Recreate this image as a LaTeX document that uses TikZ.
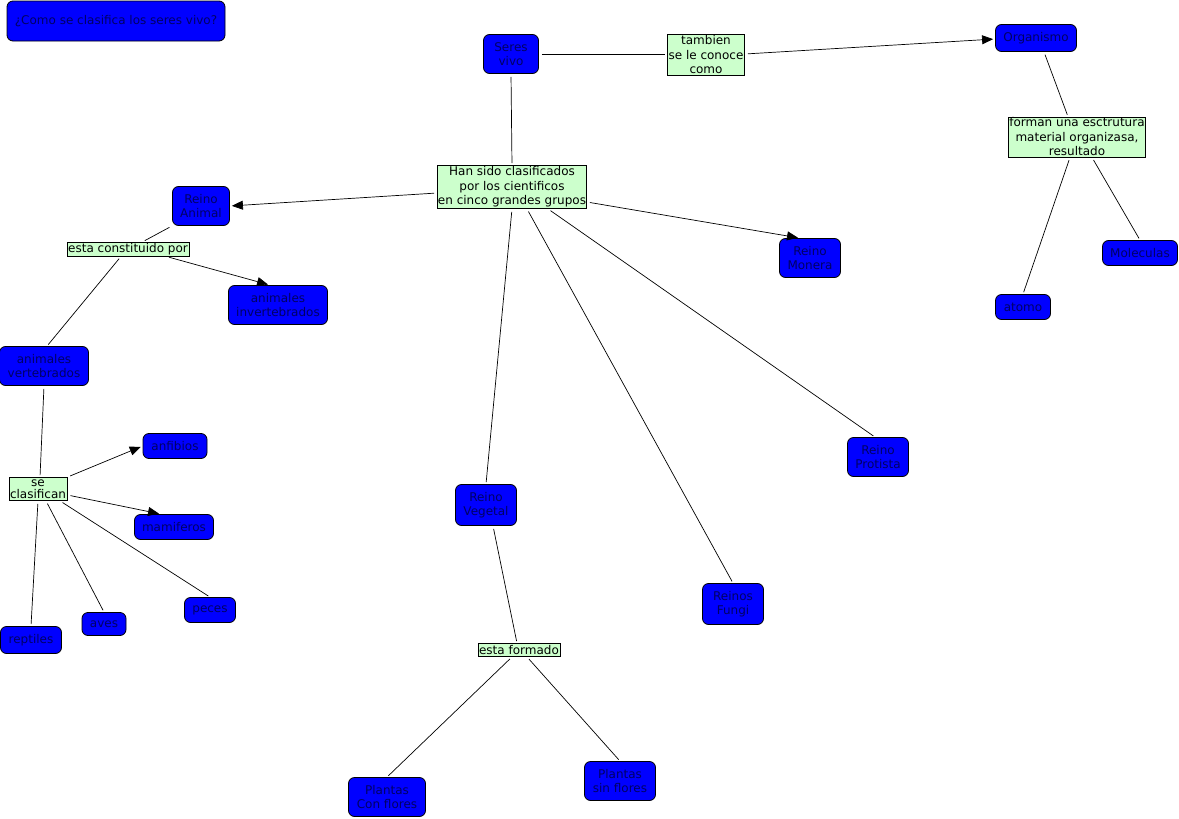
\documentclass[tikz,border=0pt]{standalone}
\usepackage{fontspec}
\setmainfont{DejaVu Sans}
\usetikzlibrary{arrows.meta}
\definecolor{cblue}{RGB}{0,0,255}
\definecolor{ctext}{RGB}{0,0,100}
\definecolor{lgreen}{RGB}{204,255,204}
\tikzset{
  concept/.style={rectangle, rounded corners=6pt, draw=black, line width=0.8pt, fill=cblue, text=ctext, align=center, inner sep=0pt, font=\fontsize{12}{14.5}\selectfont},
  linkbox/.style={rectangle, draw=black, line width=0.8pt, fill=lgreen, text=black, align=center, inner sep=0.5pt, font=\fontsize{12}{14.5}\selectfont},
  conn/.style={draw=black, line width=0.7pt, shorten <=3pt, shorten >=2pt},
  arr/.style={conn, -{Triangle[length=11pt,width=9pt]}},
}
\begin{document}
\begin{tikzpicture}[x=1pt,y=-1pt]
\useasboundingbox (0,0) rectangle (1179,819);
% concepts
\node[concept, minimum width=218pt, minimum height=40pt] (title) at (116,21) {¿Como se clasifica los seres vivo?};
\node[concept, minimum width=55pt, minimum height=39pt] (seres) at (511,54) {Seres\\vivo};
\node[concept, minimum width=81pt, minimum height=27pt] (org) at (1036,38) {Organismo};
\node[concept, minimum width=75pt, minimum height=25pt] (mol) at (1140,253) {Moleculas};
\node[concept, minimum width=55pt, minimum height=25pt] (atomo) at (1023,307) {atomo};
\node[concept, minimum width=57pt, minimum height=39pt] (animal) at (201,206) {Reino\\Animal};
\node[concept, minimum width=99pt, minimum height=39pt] (invert) at (278,305) {animales\\invertebrados};
\node[concept, minimum width=89pt, minimum height=39pt] (vert) at (44,366) {animales\\vertebrados};
\node[concept, minimum width=61pt, minimum height=39pt] (monera) at (810,258) {Reino\\Monera};
\node[concept, minimum width=61pt, minimum height=39pt] (protista) at (878,457) {Reino\\Protista};
\node[concept, minimum width=61pt, minimum height=41pt] (vegetal) at (486,505) {Reino\\Vegetal};
\node[concept, minimum width=61pt, minimum height=41pt] (fungi) at (733,604) {Reinos\\Fungi};
\node[concept, minimum width=77pt, minimum height=39pt] (conflores) at (387,797) {Plantas\\Con flores};
\node[concept, minimum width=71pt, minimum height=39pt] (sinflores) at (620,781) {Plantas\\sin flores};
\node[concept, minimum width=64pt, minimum height=25pt] (anfibios) at (175,446) {anfibios};
\node[concept, minimum width=79pt, minimum height=25pt] (mamiferos) at (174,527) {mamiferos};
\node[concept, minimum width=51pt, minimum height=25pt] (peces) at (210,610) {peces};
\node[concept, minimum width=44pt, minimum height=23pt] (aves) at (104,624) {aves};
\node[concept, minimum width=61pt, minimum height=27pt] (reptiles) at (31,640) {reptiles};
% linking phrases
\node[linkbox, minimum width=77pt, minimum height=41pt] (tambien) at (706,55) {tambien\\se le conoce\\como};
\node[linkbox, minimum width=137pt, minimum height=40pt] (forman) at (1077,137) {forman una esctrutura\\material organizasa,\\resultado};
\node[linkbox, minimum width=149pt, minimum height=43pt] (han) at (512,187) {Han sido clasificados\\por los cientificos\\en cinco grandes grupos};
\node[linkbox, minimum width=122pt, minimum height=14pt] (const) at (128,249) {esta constituido por};
\node[linkbox, minimum width=58pt, minimum height=23pt] (seclas) at (38,489) {se\\[-3pt]clasifican};
\node[linkbox, minimum width=82pt, minimum height=13pt] (formado) at (519,650) {esta formado};
% connectors
\draw[conn] (seres.east) -- ([yshift=1pt]tambien.west);
\draw[arr] ([yshift=1pt]tambien.east) -- ([yshift=-1pt]org.west);
\draw[conn] (seres.south) -- (han.north);
\draw[conn] ([xshift=8pt]org.south) -- ([xshift=-9pt]forman.north);
\draw[conn] ([xshift=15pt]forman.south) -- (mol.north);
\draw[conn] ([xshift=-7pt]forman.south) -- (atomo.north);
\draw[arr] ([yshift=-6pt]han.west) -- (animal.east);
\draw[arr] ([yshift=-15pt]han.east) -- ([xshift=-10pt]monera.north);
\draw[conn] (han.south) -- (vegetal.north);
\draw[conn] ([xshift=15pt]han.south) -- (fungi.north);
\draw[conn] ([xshift=36pt]han.south) -- ([xshift=-3pt]protista.north);
\draw[conn] (animal.south west) -- ([xshift=15pt]const.north);
\draw[arr] ([xshift=38pt]const.south) -- ([xshift=-8pt]invert.north);
\draw[conn] ([xshift=-7pt]const.south) -- ([xshift=3pt]vert.north);
\draw[conn] (vert.south) -- ([xshift=2pt]seclas.north);
\draw[arr] (seclas.north east) -- (anfibios.west);
\draw[arr] ([yshift=-6pt]seclas.east) -- ([xshift=-13pt]mamiferos.north);
\draw[conn] ([xshift=22pt]seclas.south) -- (peces.north);
\draw[conn] ([xshift=8pt]seclas.south) -- (aves.north);
\draw[conn] (seclas.south) -- (reptiles.north);
\draw[conn] ([xshift=7pt]vegetal.south) -- ([xshift=-2pt]formado.north);
\draw[conn] ([xshift=-7pt]formado.south) -- (conflores.north);
\draw[conn] ([xshift=8pt]formado.south) -- (sinflores.north);
\end{tikzpicture}
\end{document}
